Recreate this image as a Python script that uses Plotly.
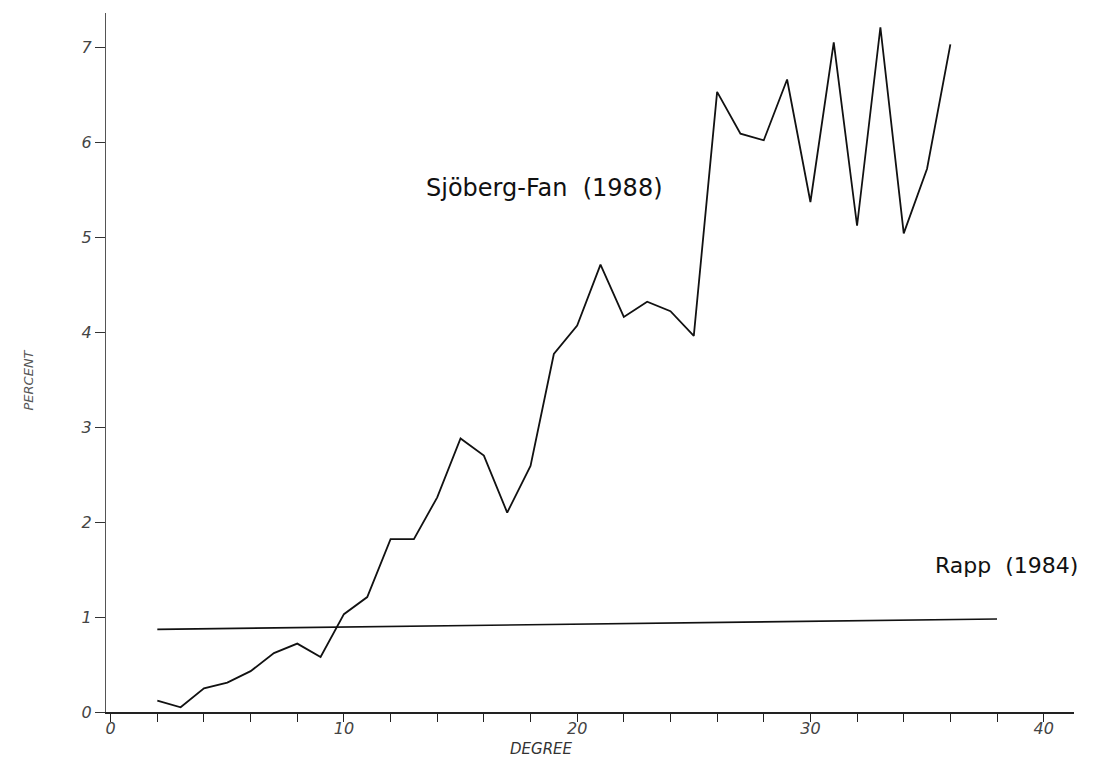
import plotly.graph_objects as go

# Data
degree = list(range(2, 37))
sjoberg_fan = [0.12, 0.05, 0.25, 0.31, 0.43, 0.62, 0.72, 0.58, 1.03, 1.21,
               1.82, 1.82, 2.26, 2.88, 2.70, 2.10, 2.59, 3.77, 4.07, 4.71,
               4.16, 4.32, 4.22, 3.96, 6.53, 6.09, 6.02, 6.66, 5.37, 7.05,
               5.12, 7.21, 5.04, 5.72, 7.03]
rapp_degree = [2, 38]
rapp_pct = [0.87, 0.98]

x_tickvals = list(range(0, 42, 2))
x_ticktext = [str(v) if v % 10 == 0 else "" for v in x_tickvals]
y_tickvals = [0, 1, 2, 3, 4, 5, 6, 7]

fig = go.Figure()
fig.add_trace(go.Scatter(x=degree, y=sjoberg_fan, mode="lines",
                         line=dict(color="#111111", width=1.8),
                         showlegend=False))
fig.add_trace(go.Scatter(x=rapp_degree, y=rapp_pct, mode="lines",
                         line=dict(color="#111111", width=1.6),
                         showlegend=False))

tickfont = dict(family="DejaVu Sans", size=16, color="#444444", style="italic")

L, R, T, B = 106, 21, 13, 52
plot_w = 1095 - L - R
plot_h = 764 - T - B

fig.update_layout(
    width=1095, height=764,
    margin=dict(l=L, r=R, t=T, b=B),
    paper_bgcolor="white", plot_bgcolor="white",
    xaxis=dict(range=[-0.2, 41.3], tickvals=x_tickvals, ticktext=x_ticktext,
               ticks="outside", ticklen=8, tickwidth=1.3, tickcolor="#222222",
               ticklabelstandoff=-7,
               showline=True, linecolor="#222222", linewidth=1.8,
               showgrid=False, zeroline=False, tickfont=tickfont),
    yaxis=dict(range=[0, 7.36], tickvals=y_tickvals,
               ticks="outside", ticklen=10, tickwidth=1.2, tickcolor="#333333",
               showline=True, linecolor="#555555", linewidth=1.2,
               showgrid=False, zeroline=False, tickfont=tickfont),
    annotations=[
        dict(x=18.6, y=5.52, xref="x", yref="y", text="Sjöberg-Fan  (1988)",
             showarrow=False, font=dict(family="DejaVu Sans", size=24, color="#111111")),
        dict(x=38.4, y=1.54, xref="x", yref="y", text="Rapp  (1984)",
             showarrow=False, font=dict(family="DejaVu Sans", size=22, color="#111111")),
        dict(x=(541 - L) / plot_w, y=(764 - B - 749) / plot_h, xref="paper", yref="paper",
             text="DEGREE", showarrow=False, yanchor="middle",
             font=dict(family="DejaVu Sans", size=15, color="#333333", style="italic")),
        dict(x=(18 - L) / plot_w, y=(764 - B - 380) / plot_h, xref="paper", yref="paper",
             text="PERCENT", showarrow=False, textangle=-90,
             font=dict(family="DejaVu Sans", size=13, color="#555555", style="italic")),
    ],
)

fig.write_html("out.html")
